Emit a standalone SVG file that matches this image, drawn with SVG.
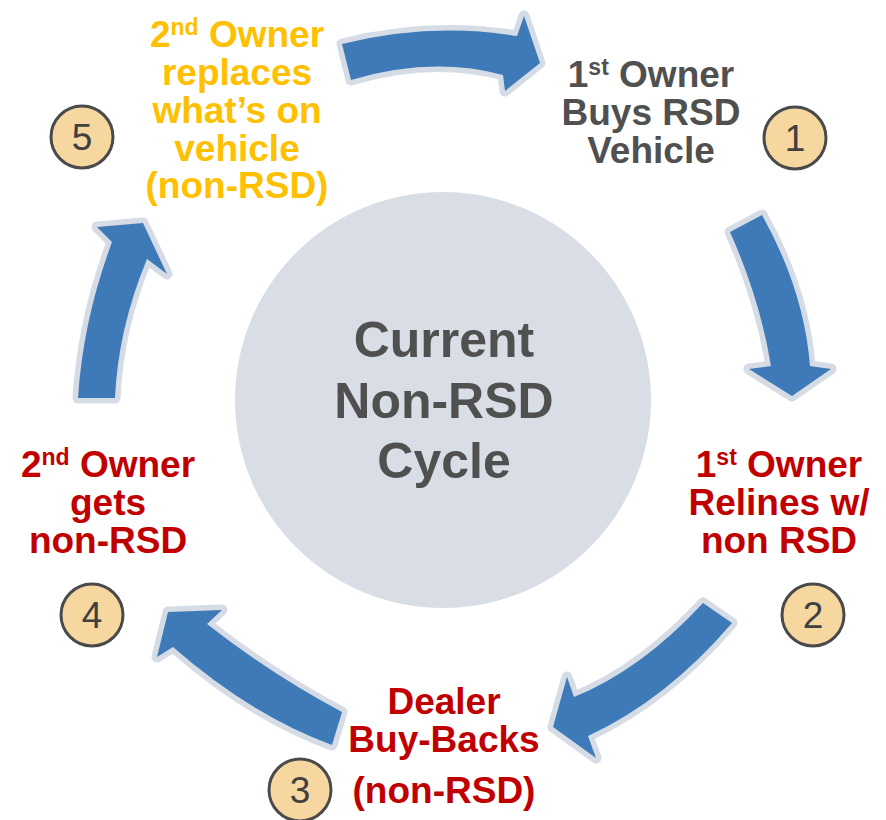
<svg xmlns="http://www.w3.org/2000/svg" xmlns:xlink="http://www.w3.org/1999/xlink" width="886" height="820" viewBox="0 0 886 820">
  <style>
    .label { font-family: "Liberation Sans", Arial, sans-serif; font-weight: bold; font-size: 37px; text-anchor: middle; }
    .sup { font-size: 23px; }
    .yellow { fill: #FFC000; }
    .grey { fill: #505050; }
    .red { fill: #C00000; }
    .centre { font-family: "Liberation Sans", Arial, sans-serif; font-weight: bold; font-size: 50px; text-anchor: middle; fill: #505050; }
    .badge circle { fill: #F6D7A0; stroke: #4A4A4A; stroke-width: 3; }
    .badge text { font-family: "Liberation Sans", Arial, sans-serif; font-size: 37px; text-anchor: middle; fill: #404040; }
    .halo { fill: #D6DCE5; stroke: #D6DCE5; stroke-width: 11; stroke-linejoin: round; }
    .body { fill: #3E7AB7; }
  </style>
  <defs>
    <path id="arrow-top" d="M342,44 Q431,22 517,36 L524,16 L540,63 L505,91 L503,75 Q432,56 351,80 Z"/>
    <path id="arrow-right" d="M762,215 Q804,290 810,366 L831,369 L792,396 L749,369 L771,366 Q760,299 730,232 Z"/>
    <path id="arrow-bottom-right" d="M732,623 Q666,700 588,736 L596,758 L553,727 L567,677 L574,697 Q641,670 703,603 Z"/>
    <path id="arrow-bottom-left" d="M342,712 Q272,675 207,624 L222,610 L168,612 L157,657 L173,647 Q252,716 332,745 Z"/>
    <path id="arrow-left" d="M78,398 Q83,320 112,242 L97,227 L143,223 L167,274 L147,259 Q118,329 115,398 Z"/>
  </defs>

  <!-- central hub -->
  <g id="hub">
    <circle cx="443" cy="400" r="208" fill="#D8DDE6"/>
    <text class="centre" x="444" y="357">Current</text>
    <text class="centre" x="444" y="418">Non-RSD</text>
    <text class="centre" x="444" y="478">Cycle</text>
  </g>

  <!-- curved cycle arrows -->
  <g id="connectors">
    <g id="arrow-5-1"><use xlink:href="#arrow-top" class="halo"/><use xlink:href="#arrow-top" class="body"/></g>
    <g id="arrow-1-2"><use xlink:href="#arrow-right" class="halo"/><use xlink:href="#arrow-right" class="body"/></g>
    <g id="arrow-2-3"><use xlink:href="#arrow-bottom-right" class="halo"/><use xlink:href="#arrow-bottom-right" class="body"/></g>
    <g id="arrow-3-4"><use xlink:href="#arrow-bottom-left" class="halo"/><use xlink:href="#arrow-bottom-left" class="body"/></g>
    <g id="arrow-4-5"><use xlink:href="#arrow-left" class="halo"/><use xlink:href="#arrow-left" class="body"/></g>
  </g>

  <!-- step 1 -->
  <g id="step-1">
    <text class="label grey" x="651" y="87">1<tspan class="sup" dy="-12">st</tspan><tspan dy="12"> Owner</tspan></text>
    <text class="label grey" x="651" y="125">Buys RSD</text>
    <text class="label grey" x="651" y="163">Vehicle</text>
    <g class="badge"><circle cx="795" cy="138" r="31"/><text x="795" y="151">1</text></g>
  </g>

  <!-- step 2 -->
  <g id="step-2">
    <text class="label red" x="779" y="477">1<tspan class="sup" dy="-12">st</tspan><tspan dy="12"> Owner</tspan></text>
    <text class="label red" x="779" y="515">Relines w/</text>
    <text class="label red" x="779" y="553">non RSD</text>
    <g class="badge"><circle cx="813" cy="615" r="31"/><text x="813" y="628">2</text></g>
  </g>

  <!-- step 3 -->
  <g id="step-3">
    <text class="label red" x="444" y="714">Dealer</text>
    <text class="label red" x="444" y="752">Buy-Backs</text>
    <text class="label red" x="444" y="803">(non-RSD)</text>
    <g class="badge"><circle cx="300" cy="790" r="31"/><text x="300" y="803">3</text></g>
  </g>

  <!-- step 4 -->
  <g id="step-4">
    <text class="label red" x="108" y="477">2<tspan class="sup" dy="-12">nd</tspan><tspan dy="12"> Owner</tspan></text>
    <text class="label red" x="108" y="515">gets</text>
    <text class="label red" x="108" y="553">non-RSD</text>
    <g class="badge"><circle cx="92" cy="615" r="31"/><text x="92" y="628">4</text></g>
  </g>

  <!-- step 5 -->
  <g id="step-5">
    <text class="label yellow" x="237" y="47">2<tspan class="sup" dy="-12">nd</tspan><tspan dy="12"> Owner</tspan></text>
    <text class="label yellow" x="237" y="85">replaces</text>
    <text class="label yellow" x="237" y="123">what’s on</text>
    <text class="label yellow" x="237" y="161">vehicle</text>
    <text class="label yellow" x="237" y="198">(non-RSD)</text>
    <g class="badge"><circle cx="82" cy="137" r="31"/><text x="82" y="150">5</text></g>
  </g>
</svg>
